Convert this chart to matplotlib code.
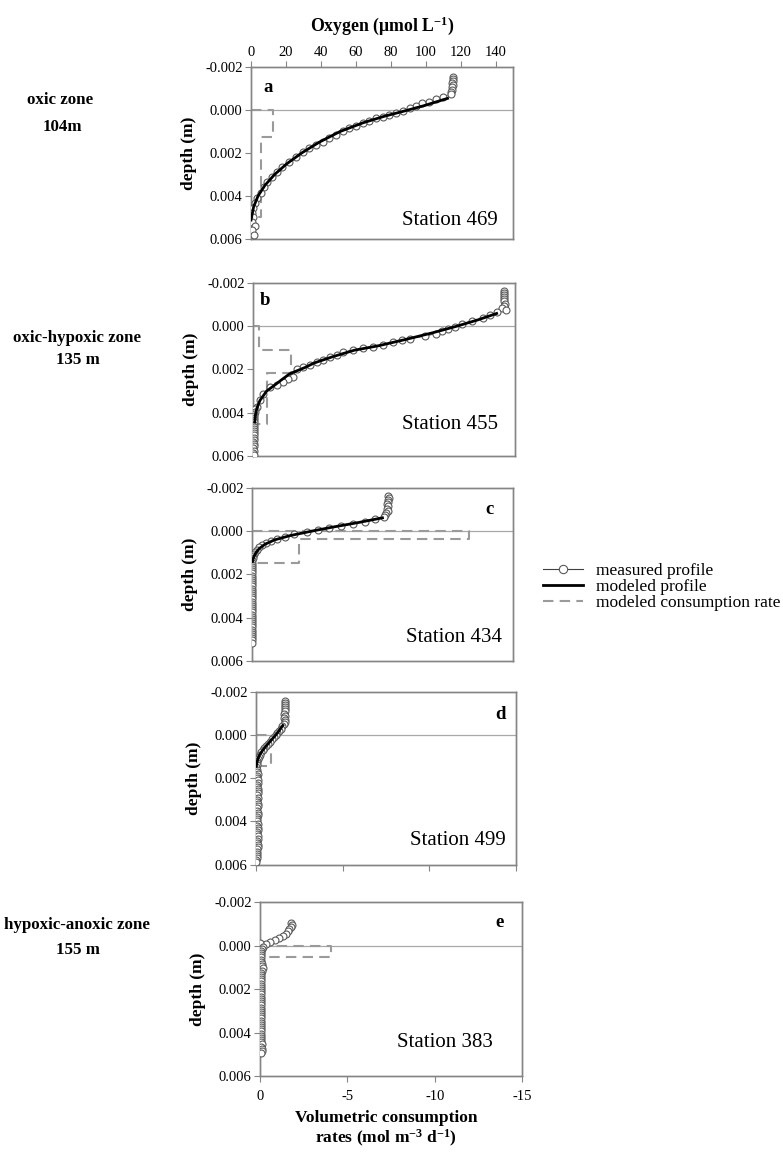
import numpy as np
import matplotlib.pyplot as plt
from matplotlib.lines import Line2D

plt.rcParams['font.family'] = 'Liberation Serif'
plt.rcParams['mathtext.default'] = 'regular'
plt.rcParams['axes.unicode_minus'] = False

# depths are written in mm (axis is in m), oxygen in umol/L, rates in mol m-3 d-1

# --- Station 469 (a) ---
d469 = [-1.55, -1.45, -1.35, -1.25, -1.15, -1.05, -0.95, -0.85, -0.75, -0.62, -0.5, -0.39, -0.31,
        -0.19, -0.08, 0.05, 0.15, 0.23, 0.31, 0.39, 0.5, 0.62, 0.74, 0.85, 1.0, 1.16, 1.32, 1.47,
        1.63, 1.78, 1.94, 2.17, 2.4, 2.64, 2.87, 3.1, 3.33, 3.57, 3.87, 4.1, 4.34, 4.57, 4.8, 5.0,
        5.2, 5.4, 5.6, 5.8]
o469 = [115.5, 115.8, 115.6, 115.2, 115.5, 115.3, 115.0, 114.7, 114.5, 110, 106, 102, 98,
        94.6, 90.8, 87, 83, 79, 75.5, 71.6, 67.8, 64, 60, 56, 52.5, 48.7, 44.8, 41,
        37, 33.3, 29.5, 25.7, 21.8, 18, 15.1, 12.2, 9.4, 7.5, 5.6, 3.6, 2.3, 1.1, 0.4, 1.2,
        0.6, 2.0, 0.8, 1.5]
m469_d = [-0.54, -0.2, 0, 0.3, 0.6, 1.0, 1.5, 2.0, 2.5, 3.0, 3.5, 4.0, 4.5, 5.12]
m469_o = [112.5, 99, 90, 76, 64, 51, 39, 29, 20.5, 13.5, 8, 4, 1.5, 0]
r469_z = [0, 1.25, 5.0]
r469_v = [-1.26, -0.57]

# --- Station 455 (b) ---
d455 = [-1.65, -1.55, -1.45, -1.35, -1.25, -1.15, -1.05, -0.95, -0.85, -0.74, -0.66, -0.51, -0.36,
        -0.25, -0.09, 0.03, 0.15, 0.23, 0.34, 0.46, 0.57, 0.65, 0.75, 0.88, 0.96, 0.99, 1.11,
        1.19, 1.34, 1.42, 1.57, 1.65, 1.77, 1.88, 1.96, 2.35, 2.42, 2.58, 2.73, 2.81, 3.12, 3.43,
        3.74, 3.85, 3.95, 4.05, 4.15, 4.25, 4.35, 4.45, 4.55, 4.65, 4.75, 4.85, 4.95, 5.05, 5.15,
        5.25, 5.35, 5.45, 5.55, 5.65, 5.75, 5.85, 5.95]
o455 = [143.5, 144, 143.8, 143.5, 144, 143.5, 144.2, 143.6, 142.5, 144.8, 139.5, 135.7, 131.8,
        125.2, 119.5, 115.6, 111.8, 108, 105, 98.5, 89.9, 85.1, 80.3, 74.6, 68.9, 63.2, 57.4,
        51.7, 47.9, 44.1, 40.2, 36.4, 32.6, 28.8, 25, 23.1, 20.2, 17.3, 13.6, 9.7, 5.9, 4,
        2.1, 1.2, 0.9, 0.8, 0.6, 0.7, 0.5, 0.6, 0.4, 0.5, 0.3, 0.5, 0.4, 0.3, 0.4,
        0.3, 0.2, 0.4, 0.3, 0.2, 0.3, 0.2, 0.3]
m455_d = [-0.59, -0.3, 0, 0.3, 0.6, 0.9, 1.11, 1.4, 1.7, 1.9, 2.2, 2.5, 2.65, 3.0, 3.43, 3.8, 4.1, 4.43]
m455_o = [139.5, 129, 116.6, 103, 88, 72, 58, 46, 35, 30, 21, 16, 13.6, 7.8, 4, 2.2, 1.4, 1.0]
r455_z = [0, 1.11, 2.18, 4.5]
r455_v = [-0.33, -2.16, -0.80]

# --- Station 434 (c) ---
d434 = [-1.65, -1.55, -1.45, -1.35, -1.25, -1.15, -1.05, -0.95, -0.85, -0.75, -0.65,
        -0.55, -0.45, -0.35, -0.25, -0.15, -0.05, 0.05, 0.15, 0.25, 0.35, 0.45, 0.55, 0.65,
        0.75, 0.85, 0.95, 1.05, 1.15, 1.25, 1.35, 1.45, 1.55, 1.65, 1.75, 1.85, 1.95, 2.05,
        2.15, 2.25, 2.35, 2.45, 2.55, 2.65, 2.75, 2.85, 2.95, 3.05, 3.15, 3.25, 3.35, 3.45,
        3.55, 3.65, 3.75, 3.85, 3.95, 4.05, 4.15, 4.25, 4.35, 4.45, 4.55, 4.65, 4.75, 4.85,
        4.95, 5.05, 5.15]
o434 = [78.3, 78.5, 78.0, 78.4, 77.8, 78.2, 77.6, 77.9, 77.2, 76.5, 75.6,
        71, 65, 58, 51, 44, 38, 31.6, 24, 19, 14.5, 11, 8, 5.7,
        4, 2.8, 1.9, 1.2, 0.8, 0.5, 0.3, 0.3, 0.2, 0.3, 0.2, 0.3, 0.2, 0.2,
        0.3, 0.2, 0.2, 0.3, 0.2, 0.2, 0.3, 0.2, 0.2, 0.3, 0.2, 0.2, 0.3, 0.2,
        0.2, 0.3, 0.2, 0.2, 0.3, 0.2, 0.2, 0.3, 0.2, 0.2, 0.3, 0.2, 0.2, 0.3,
        0.2, 0.2, 0.3]
m434_d = [-0.62, -0.4, -0.2, 0, 0.2, 0.4, 0.6, 0.8, 1.0, 1.2, 1.4]
m434_o = [75, 61, 47, 34, 22, 13, 7.5, 4.2, 2.2, 1.0, 0.3]
r434_z = [0, 0.36, 1.47]
r434_v = [-12.5, -2.68]

# --- Station 499 (d) ---
d499 = [-1.6, -1.5, -1.4, -1.3, -1.2, -1.1, -1.0, -0.9, -0.8, -0.7,
        -0.6, -0.5, -0.4, -0.3, -0.2, -0.1, 0.0, 0.1, 0.2, 0.3, 0.4, 0.5, 0.6, 0.7, 0.8, 0.9,
        1.0, 1.1, 1.2, 1.3, 1.4,
        1.5, 1.6, 1.7, 1.8, 1.9, 2.0, 2.1, 2.2, 2.3, 2.4, 2.5, 2.6, 2.7, 2.8, 2.9, 3.0, 3.1,
        3.2, 3.3, 3.4, 3.5, 3.6, 3.7, 3.8, 3.9, 4.0, 4.1, 4.2, 4.3, 4.4, 4.5, 4.6, 4.7, 4.8,
        4.9, 5.0, 5.1, 5.2, 5.3, 5.4, 5.5, 5.6, 5.7, 5.8, 5.9]
o499 = [16.8, 17.0, 16.6, 16.9, 16.5, 16.8, 16.4, 16.7, 16.3, 16.5,
        16.8, 16.0, 15.2, 14.3, 13.4, 12.4, 11.4, 10.3, 9.2, 8.1, 7.0, 5.9, 4.8, 3.8, 2.9, 2.2,
        1.6, 1.1, 0.8, 0.5, 0.4,
        0.3, 0.5, 0.8, 1.0, 0.7, 0.5, 0.9, 1.2, 0.8, 0.6, 1.0, 1.3, 0.9, 0.7, 1.1, 0.8, 0.6,
        1.0, 1.2, 0.8, 0.6, 0.9, 1.1, 0.7, 0.5, 0.8, 1.0, 0.7, 0.9, 1.2, 0.8, 0.6, 0.9, 1.1,
        0.8, 0.6, 0.9, 1.0, 0.7, 0.5, 0.8, 0.6, 0.4, 0.3, 0.2]
m499_d = [-0.45, -0.1, 0.2, 0.5, 0.7, 0.9, 1.1, 1.3, 1.45]
m499_o = [15.5, 12.4, 9.2, 5.9, 3.9, 2.2, 1.1, 0.5, 0.2]
r499_z = [0, 1.45]
r499_v = [-0.85]

# --- Station 383 (e) ---
d383 = [-1.05, -0.95, -0.85, -0.75, -0.65, -0.55, -0.45, -0.35, -0.25, -0.15, -0.05, -0.1,
        0.05, 0.15, 0.25, 0.35, 0.45, 0.55, 0.65, 0.75, 0.85, 0.95, 1.05, 1.15, 1.25, 1.35,
        1.45, 1.55, 1.65, 1.75, 1.85, 1.95, 2.05, 2.15, 2.25, 2.35, 2.45, 2.55, 2.65, 2.75,
        2.85, 2.95, 3.05, 3.15, 3.25, 3.35, 3.45, 3.55, 3.65, 3.75, 3.85, 3.95, 4.05, 4.15,
        4.25, 4.35, 4.45, 4.55, 4.65, 4.75, 4.85, 4.95]
o383 = [18.0, 18.2, 17.6, 16.8, 15.8, 14.6, 13.0, 11.0, 8.5, 5.8, 3.4, 0.0,
        1.8, 0.9, 0.5, 0.3, 0.4, 0.6, 0.5, 0.7, 0.9, 1.4, 1.8, 1.2, 0.7, 0.6,
        0.5, 0.7, 0.6, 0.8, 0.6, 0.5, 0.7, 0.6, 0.5, 0.8, 0.6, 0.7, 0.5, 0.6,
        0.8, 0.6, 0.5, 0.7, 0.6, 0.5, 0.7, 0.8, 0.6, 0.5, 0.7, 0.6, 0.5, 0.7,
        0.8, 0.6, 0.7, 0.9, 0.8, 1.0, 0.9, 0.7]
m383_d = [-0.6, -0.4, -0.2, 0, 0.2, 0.4, 1.0, 2.0, 3.0, 4.0, 4.5]
m383_o = [15, 12, 7, 2.6, 0.8, 0.3, 0.3, 0.3, 0.3, 0.3, 0.3]
r383_z = [0, 0.52]
r383_v = [-4.08]

stations = ['Station 469', 'Station 455', 'Station 434', 'Station 499', 'Station 383']
letters = ['a', 'b', 'c', 'd', 'e']

panels = [
    dict(rect=[0.3206, 0.7931, 0.3346, 0.1489], d=d469, o=o469, md=m469_d, mo=m469_o,
         rz=r469_z, rv=r469_v, let_xy=(0.065, 0.88), st_xy=(0.943, 0.05)),
    dict(rect=[0.3231, 0.6052, 0.3346, 0.1498], d=d455, o=o455, md=m455_d, mo=m455_o,
         rz=r455_z, rv=r455_v, let_xy=(0.046, 0.90), st_xy=(0.935, 0.13)),
    dict(rect=[0.3218, 0.4277, 0.3333, 0.1498], d=d434, o=o434, md=m434_d, mo=m434_o,
         rz=r434_z, rv=r434_v, let_xy=(0.91, 0.873), st_xy=(0.958, 0.08)),
    dict(rect=[0.3269, 0.2515, 0.3321, 0.1494], d=d499, o=o499, md=m499_d, mo=m499_o,
         rz=r499_z, rv=r499_v, let_xy=(0.94, 0.867), st_xy=(0.96, 0.087)),
    dict(rect=[0.3321, 0.0684, 0.3346, 0.1506], d=d383, o=o383, md=m383_d, mo=m383_o,
         rz=r383_z, rv=r383_v, let_xy=(0.916, 0.885), st_xy=(0.89, 0.14)),
]

spine_col = '#858585'
fig = plt.figure(figsize=(7.83, 11.55), dpi=100)

for i, p in enumerate(panels):
    ax = fig.add_axes(p['rect'])
    ax2 = ax.twiny()

    # consumption rate step profile (bottom axis)
    z = np.array(p['rz']) / 1000
    xs, ys = [0], [z[0]]
    for k, r in enumerate(p['rv']):
        xs += [r, r]
        ys += [z[k], z[k + 1]]
    xs.append(0)
    ys.append(z[-1])
    ax.axhline(0, color='#a8a8a8', lw=0.9, zorder=1)
    ax.plot(xs, ys, color='#9a9a9a', lw=1.5, dashes=(5, 3), zorder=2)

    # oxygen profiles (top axis)
    dm = np.array(p['d']) / 1000
    ax2.plot(p['o'], dm, color='#404040', lw=0.6, marker='o', ms=5, mfc='white',
             mec='#5a5a5a', mew=0.8, zorder=3)
    ax2.plot(p['mo'], np.array(p['md']) / 1000, color='black', lw=2, zorder=2 if i == 4 else 4)

    ax.set_xlim(0, -15)
    ax2.set_xlim(0, 150)
    ax.set_ylim(0.006, -0.002)
    ax.set_yticks([-0.002, 0, 0.002, 0.004, 0.006])
    ax.set_yticklabels(['-0.002', '0.000', '0.002', '0.004', '0.006'])
    ax.set_ylabel('depth (m)', fontsize=12.5, fontweight='bold', labelpad=6)

    for a_ in (ax, ax2):
        for s in a_.spines.values():
            s.set_color(spine_col)
            s.set_linewidth(1.0)
    ax.tick_params(axis='y', direction='out', length=4, color=spine_col, labelsize=10.5, pad=2)

    if i == 0:
        ax2.set_xticks(range(0, 141, 20))
        ax2.tick_params(axis='x', direction='out', length=4, color=spine_col, labelsize=10.5, pad=2)
    else:
        ax2.tick_params(axis='x', top=False, labeltop=False)

    if i == 4:
        ax.set_xticks([0, -5, -10, -15])
        ax.set_xticklabels(['0', '-5', '-10', '-15'])
        ax.tick_params(axis='x', direction='out', length=4, color=spine_col, labelsize=10.5, pad=6)
    elif i == 3:
        ax.set_xticks([0, -5, -10, -15])
        ax.tick_params(axis='x', direction='out', length=4, color=spine_col, labelbottom=False)
    else:
        ax.tick_params(axis='x', bottom=False, labelbottom=False)

    ax.text(p['let_xy'][0], p['let_xy'][1], letters[i], transform=ax.transAxes,
            fontsize=13.5, fontweight='bold', ha='center', va='center')
    ax.text(p['st_xy'][0], p['st_xy'][1], stations[i], transform=ax.transAxes,
            fontsize=15, ha='right', va='bottom')

fig.text(0.488, 0.978, r'Oxygen ($\mu$mol L$^{-1}$)', fontsize=12.8, fontweight='bold',
         ha='center', va='center')
fig.text(0.493, 1 - 1118 / 1155, 'Volumetric consumption', fontsize=12.5, fontweight='bold',
         ha='center', va='center')
fig.text(0.493, 1 - 1138 / 1155, r'rates (mol m$^{-3}$ d$^{-1}$)', fontsize=12.5,
         fontweight='bold', ha='center', va='center')

zone_kw = dict(fontsize=12.2, fontweight='bold', ha='center', va='center')
fig.text(60 / 783, 1 - 100 / 1155, 'oxic zone', **zone_kw)
fig.text(62 / 783, 1 - 127 / 1155, '104m', **zone_kw)
fig.text(77 / 783, 1 - 338 / 1155, 'oxic-hypoxic zone', **zone_kw)
fig.text(78 / 783, 1 - 360 / 1155, '135 m', **zone_kw)
fig.text(77 / 783, 1 - 925 / 1155, 'hypoxic-anoxic zone', **zone_kw)
fig.text(78 / 783, 1 - 950 / 1155, '155 m', **zone_kw)

handles = [
    Line2D([], [], color='#404040', lw=0.8, marker='o', ms=6, mfc='white', mec='#5a5a5a', mew=0.8),
    Line2D([], [], color='black', lw=2),
    Line2D([], [], color='#9a9a9a', lw=1.5, dashes=(5, 3)),
]
labels = ['measured profile', 'modeled profile', 'modeled consumption rate']
fig.legend(handles, labels, loc='upper left', bbox_to_anchor=(543 / 783, 1 - 563 / 1155),
           frameon=False, fontsize=12.5, handlelength=2.3, handletextpad=0.75,
           labelspacing=0.0, borderpad=0, borderaxespad=0)

fig.savefig('out.png', dpi=100)
